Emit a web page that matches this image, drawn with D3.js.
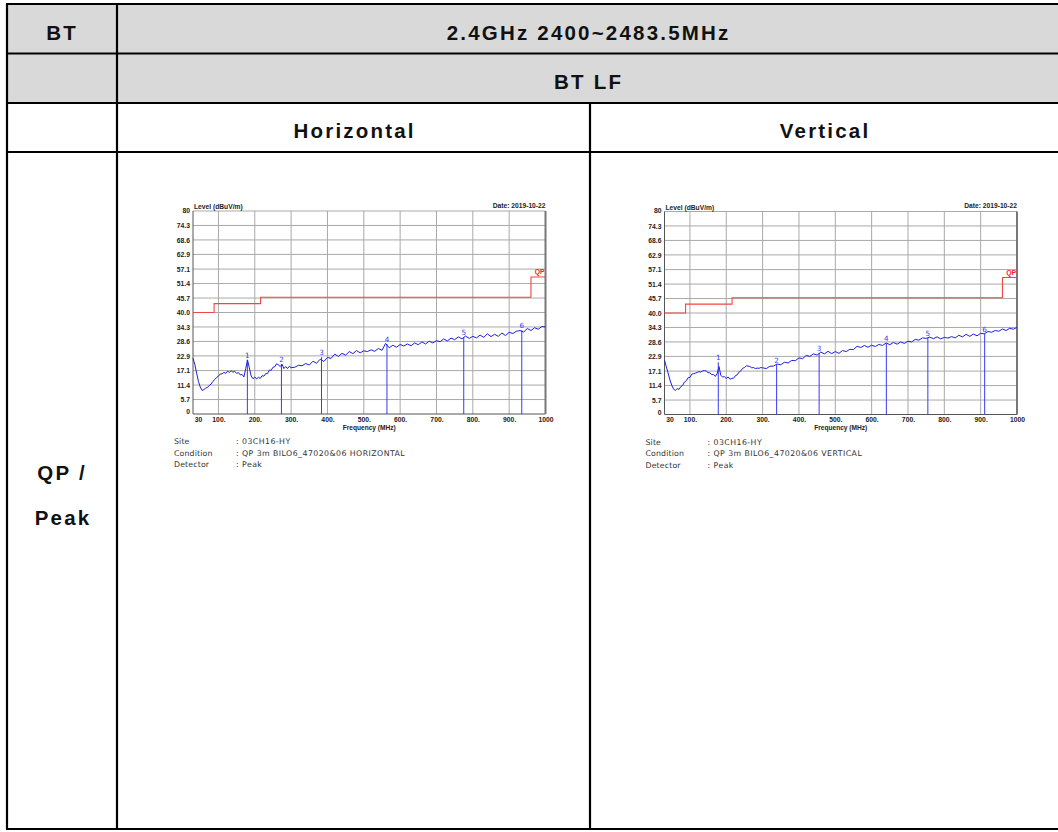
<!DOCTYPE html>
<html>
<head>
<meta charset="utf-8">
<script src="https://cdn.jsdelivr.net/npm/d3@7"></script>
<style>
  html, body { margin: 0; padding: 0; background: #fff; }
  svg { display: block; }
</style>
</head>
<body>
<svg id="page" width="1058" height="832"></svg>
<script>
// ---- Sweep data (30 MHz - 1 GHz radiated emission, 3 m) ----
const freqMHz = [
  30,35,40,45,50,55,60,65,70,75,80,85,90,95,100,105,110,115,120,125,
  130,135,140,145,150,155,160,165,170,175,180,185,190,195,200,205,210,215,220,225,
  230,235,240,245,250,255,260,265,270,275,280,285,290,295,300,
  310,320,330,340,350,360,370,380,390,400,410,420,430,440,450,460,470,480,490,500,
  510,520,530,540,550,560,570,580,590,600,610,620,630,640,650,660,670,680,690,700,
  710,720,730,740,750,760,770,780,790,800,810,820,830,840,850,860,870,880,890,900,
  910,920,930,940,950,960,970,980,990,1000
];

// Peak trace, horizontal antenna polarisation (dBuV/m)
const levelHorizontal = [
  22.0,19.5,16.1,12.8,10.6,9.3,9.6,10.2,10.5,11.3,
  11.8,12.9,13.6,14.4,14.9,15.8,15.8,16.4,16.0,16.9,
  16.4,17.0,16.5,16.8,16.0,16.3,15.4,15.6,14.6,17.8,
  21.3,18.2,15.0,13.9,14.6,13.8,14.5,14.0,15.1,14.9,
  15.9,15.9,17.3,17.2,18.4,18.6,19.8,19.4,18.7,19.6,
  17.9,18.7,17.9,18.8,18.3,
  18.4,19.2,19.0,19.9,19.3,20.8,20.0,21.6,20.7,22.3,
  21.9,23.6,22.7,23.9,23.2,24.6,23.8,25.0,24.1,24.9,
  24.6,25.3,24.7,25.8,25.1,27.8,26.1,27.1,26.3,27.4,
  26.8,27.6,26.9,28.0,27.3,28.4,27.6,28.7,28.0,28.9,
  28.5,29.6,28.8,29.9,29.3,30.4,29.6,30.7,29.8,30.6,
  30.0,31.1,30.2,31.6,30.5,31.4,30.6,31.9,30.9,32.2,
  31.7,32.6,32.9,32.3,33.7,32.9,34.0,33.4,34.5,34.3
];

// Peak trace, vertical antenna polarisation (dBuV/m)
const levelVertical = [
  21.4,18.8,16.3,13.6,11.5,10.0,9.5,10.2,9.9,11.0,
  11.5,12.8,13.3,14.5,14.6,15.9,16.1,16.3,16.6,16.9,
  16.7,17.2,17.3,17.1,16.5,16.4,15.7,15.8,15.0,16.2,
  18.9,15.4,14.8,14.9,14.2,14.8,13.9,14.2,14.3,15.3,
  15.6,16.7,17.2,18.2,18.5,19.2,19.1,18.9,18.4,18.5,
  18.1,18.3,18.2,18.5,18.4,
  18.1,19.0,19.1,19.9,19.6,20.6,20.3,21.3,21.2,22.3,
  22.0,23.3,22.9,23.9,23.4,24.6,23.9,24.9,24.0,24.8,
  24.1,25.2,24.8,25.7,25.6,26.9,26.4,27.2,26.5,27.3,
  26.8,27.6,27.2,28.2,27.5,28.4,27.7,28.6,28.0,28.9,
  28.6,29.6,29.3,30.2,30.0,30.5,29.9,30.6,29.8,30.4,
  30.1,30.7,30.2,31.2,30.6,31.6,30.8,31.7,31.0,32.0,
  31.8,32.7,32.4,33.1,32.8,33.7,33.1,34.0,33.6,34.3
];

// Marked emissions (frequency MHz, level dBuV/m)
const markerFreqH  = [179.6, 273.4, 383.6, 563.7, 775.0, 934.7];
const markerLevelH = [21.4, 19.7, 22.4, 27.6, 30.2, 33.0];
const markerFreqV  = [178.0, 338.5, 455.5, 640.5, 754.7, 911.0];
const markerLevelV = [20.6, 19.6, 24.2, 28.0, 30.3, 31.9];

// QP limit line (step edges)
const limitFreq  = [30, 88, 216, 960, 1000];
const limitLevel = [40.0, 43.5, 46.0, 54.0, 54.0];

// Axis tick labels
const yTickLabels = ["0","5.7","11.4","17.1","22.9","28.6","34.3","40.0","45.7","51.4","57.1","62.9","68.6","74.3","80"];
const xTickValues = [30,100,200,300,400,500,600,700,800,900,1000];

// Table text
const headerBand  = "2.4GHz 2400~2483.5MHz";
const headerMode  = "BT LF";
const polarisations = ["Horizontal", "Vertical"];
const siteInfo = {
  labels: ["Site", "Condition", "Detector"],
  Horizontal: [": 03CH16-HY", ": QP 3m BILO6_47020&06 HORIZONTAL", ": Peak"],
  Vertical:   [": 03CH16-HY", ": QP 3m BILO6_47020&06 VERTICAL", ": Peak"]
};

const svg = d3.select("#page");

// ---------- table ----------
const tx0 = 7, tColA = 117, tColB = 590, tx1 = 1059;
const rows = [4, 53.5, 103, 152, 829];

svg.append("rect").attr("x", tx0).attr("y", rows[0]).attr("width", tx1 - tx0).attr("height", rows[2] - rows[0])
  .attr("fill", "#d9d9d9");

const tbl = svg.append("g").attr("stroke", "#000").attr("stroke-width", 2.2);
rows.forEach(y => tbl.append("line").attr("x1", tx0 - 1).attr("x2", tx1).attr("y1", y).attr("y2", y));
tbl.append("line").attr("x1", tx0).attr("x2", tx0).attr("y1", rows[0]).attr("y2", rows[4]);
tbl.append("line").attr("x1", tColA).attr("x2", tColA).attr("y1", rows[0]).attr("y2", rows[4]);
tbl.append("line").attr("x1", tColB).attr("x2", tColB).attr("y1", rows[2]).attr("y2", rows[4]);

const LS = 2.2;
function cellText(x, y, s) {
  svg.append("text").attr("x", x + LS / 2).attr("y", y).attr("text-anchor", "middle")
    .attr("font-family", "'Liberation Sans', Arial, sans-serif").attr("font-weight", "bold")
    .attr("font-size", 20.5).attr("letter-spacing", LS).attr("fill", "#111").text(s);
}
cellText(61, 39.5, "BT");
cellText((tColA + 1058) / 2, 39.5, headerBand);
cellText((tColA + 1058) / 2, 88.5, headerMode);
cellText((tColA + tColB) / 2, 137.5, polarisations[0]);
cellText((tColB + 1058) / 2, 137.5, polarisations[1]);
cellText(61, 480, "QP /");
cellText(62, 525, "Peak");

// ---------- emission plots ----------
const PW = 352.5, PH = 203;

function drawPlot(ox, oy, levels, mFreq, mLevel, pol) {
  const g = svg.append("g").attr("transform", `translate(${ox},${oy})`);
  const x = d3.scaleLinear().domain([30, 1000]).range([0, PW]);
  const y = d3.scaleLinear().domain([0, 80]).range([PH, 0]);
  const tickFont = "'Liberation Sans', Arial, sans-serif";

  // grid
  g.append("g").selectAll("line").data(yTickLabels.slice(1)).join("line")
    .attr("x1", 0).attr("x2", PW).attr("y1", d => y(+d)).attr("y2", d => y(+d))
    .attr("stroke", "#a9a9a9").attr("stroke-width", 1);
  g.append("g").selectAll("line").data(xTickValues.slice(1, -1)).join("line")
    .attr("x1", d => x(d)).attr("x2", d => x(d)).attr("y1", 0).attr("y2", PH)
    .attr("stroke", "#a9a9a9").attr("stroke-width", 1);

  // frame
  g.append("line").attr("x1", 0).attr("x2", 0).attr("y1", 0).attr("y2", PH).attr("stroke", "#555").attr("stroke-width", 1);
  g.append("line").attr("x1", 0).attr("x2", PW).attr("y1", PH).attr("y2", PH).attr("stroke", "#555").attr("stroke-width", 1);
  g.append("line").attr("x1", PW).attr("x2", PW).attr("y1", 0).attr("y2", PH).attr("stroke", "#777").attr("stroke-width", 2);

  // y axis labels
  const yAxis = d3.axisLeft(y).tickValues(yTickLabels.map(Number)).tickSize(0).tickPadding(3)
    .tickFormat((d, i) => yTickLabels[i]);
  const ya = g.append("g").call(yAxis);
  ya.select(".domain").remove();
  ya.selectAll("text").attr("font-family", tickFont).attr("font-weight", "bold")
    .attr("font-size", 6.8).attr("fill", "#222");
  ya.selectAll(".tick").filter(d => d === 0).select("text").attr("dy", "-0.05em");
  ya.selectAll(".tick").filter(d => d === 80).select("text").attr("dy", "0.15em");

  // x axis labels
  const xAxis = d3.axisBottom(x).tickValues(xTickValues).tickSize(0).tickPadding(3)
    .tickFormat(d => (d === 30 || d === 1000) ? String(d) : d + ".");
  const xa = g.append("g").attr("transform", `translate(0,${PH})`).call(xAxis);
  xa.select(".domain").remove();
  xa.selectAll("text").attr("font-family", tickFont).attr("font-weight", "bold")
    .attr("font-size", 6.8).attr("fill", "#222");
  xa.selectAll(".tick").filter(d => d === 30).select("text").attr("x", 5);

  g.append("text").attr("x", PW / 2).attr("y", PH + 15.5).attr("text-anchor", "middle")
    .attr("font-family", tickFont).attr("font-weight", "bold").attr("font-size", 6.6).attr("fill", "#222")
    .text("Frequency (MHz)");
  g.append("text").attr("x", 1).attr("y", -2).attr("font-family", tickFont).attr("font-weight", "bold")
    .attr("font-size", 6.7).attr("fill", "#222").text("Level (dBuV/m)");
  g.append("text").attr("x", PW).attr("y", -3.5).attr("text-anchor", "end").attr("font-family", tickFont)
    .attr("font-weight", "bold").attr("font-size", 6.7).attr("fill", "#222").text("Date: 2019-10-22");

  // limit line
  const limitLine = d3.line().x((d, i) => x(limitFreq[i])).y(d => y(d)).curve(d3.curveStepAfter);
  g.append("path").attr("d", limitLine(limitLevel)).attr("fill", "none")
    .attr("stroke", "#f04646").attr("stroke-width", 1.1);
  g.append("text").attr("x", PW - 1).attr("y", y(54) - 2.5).attr("text-anchor", "end")
    .attr("font-family", tickFont).attr("font-weight", "bold").attr("font-size", 6.8).attr("fill", "#f02020")
    .text("QP");

  // marker lines
  g.append("g").selectAll("line").data(mLevel).join("line")
    .attr("x1", (d, i) => x(mFreq[i])).attr("x2", (d, i) => x(mFreq[i]))
    .attr("y1", d => y(d)).attr("y2", PH)
    .attr("stroke", "#3a3af5").attr("stroke-width", 1);
  g.append("g").selectAll("text").data(mLevel).join("text")
    .attr("x", (d, i) => x(mFreq[i])).attr("y", d => y(d) - 2).attr("text-anchor", "middle")
    .attr("font-family", "'DejaVu Sans', sans-serif").attr("font-size", 7.2).attr("fill", "#3a3af5")
    .text((d, i) => i + 1);

  // peak trace
  const trace = d3.line().x((d, i) => x(freqMHz[i])).y(d => y(d));
  g.append("path").attr("d", trace(levels)).attr("fill", "none")
    .attr("stroke", "#1e1ee0").attr("stroke-width", 1).attr("stroke-linejoin", "round");

  // measurement info
  const info = g.append("g").attr("font-family", "'DejaVu Sans', Verdana, sans-serif")
    .attr("font-size", 7.8).attr("fill", "#333");
  siteInfo.labels.forEach((lab, i) => {
    info.append("text").attr("x", -19).attr("y", PH + 30 + i * 11.5).attr("letter-spacing", 0.15).text(lab);
    info.append("text").attr("x", 43).attr("y", PH + 30 + i * 11.5).attr("letter-spacing", 0.45).text(siteInfo[pol][i]);
  });
}

drawPlot(193, 211, levelHorizontal, markerFreqH, markerLevelH, "Horizontal");
drawPlot(664.5, 211.5, levelVertical, markerFreqV, markerLevelV, "Vertical");
</script>
</body>
</html>
